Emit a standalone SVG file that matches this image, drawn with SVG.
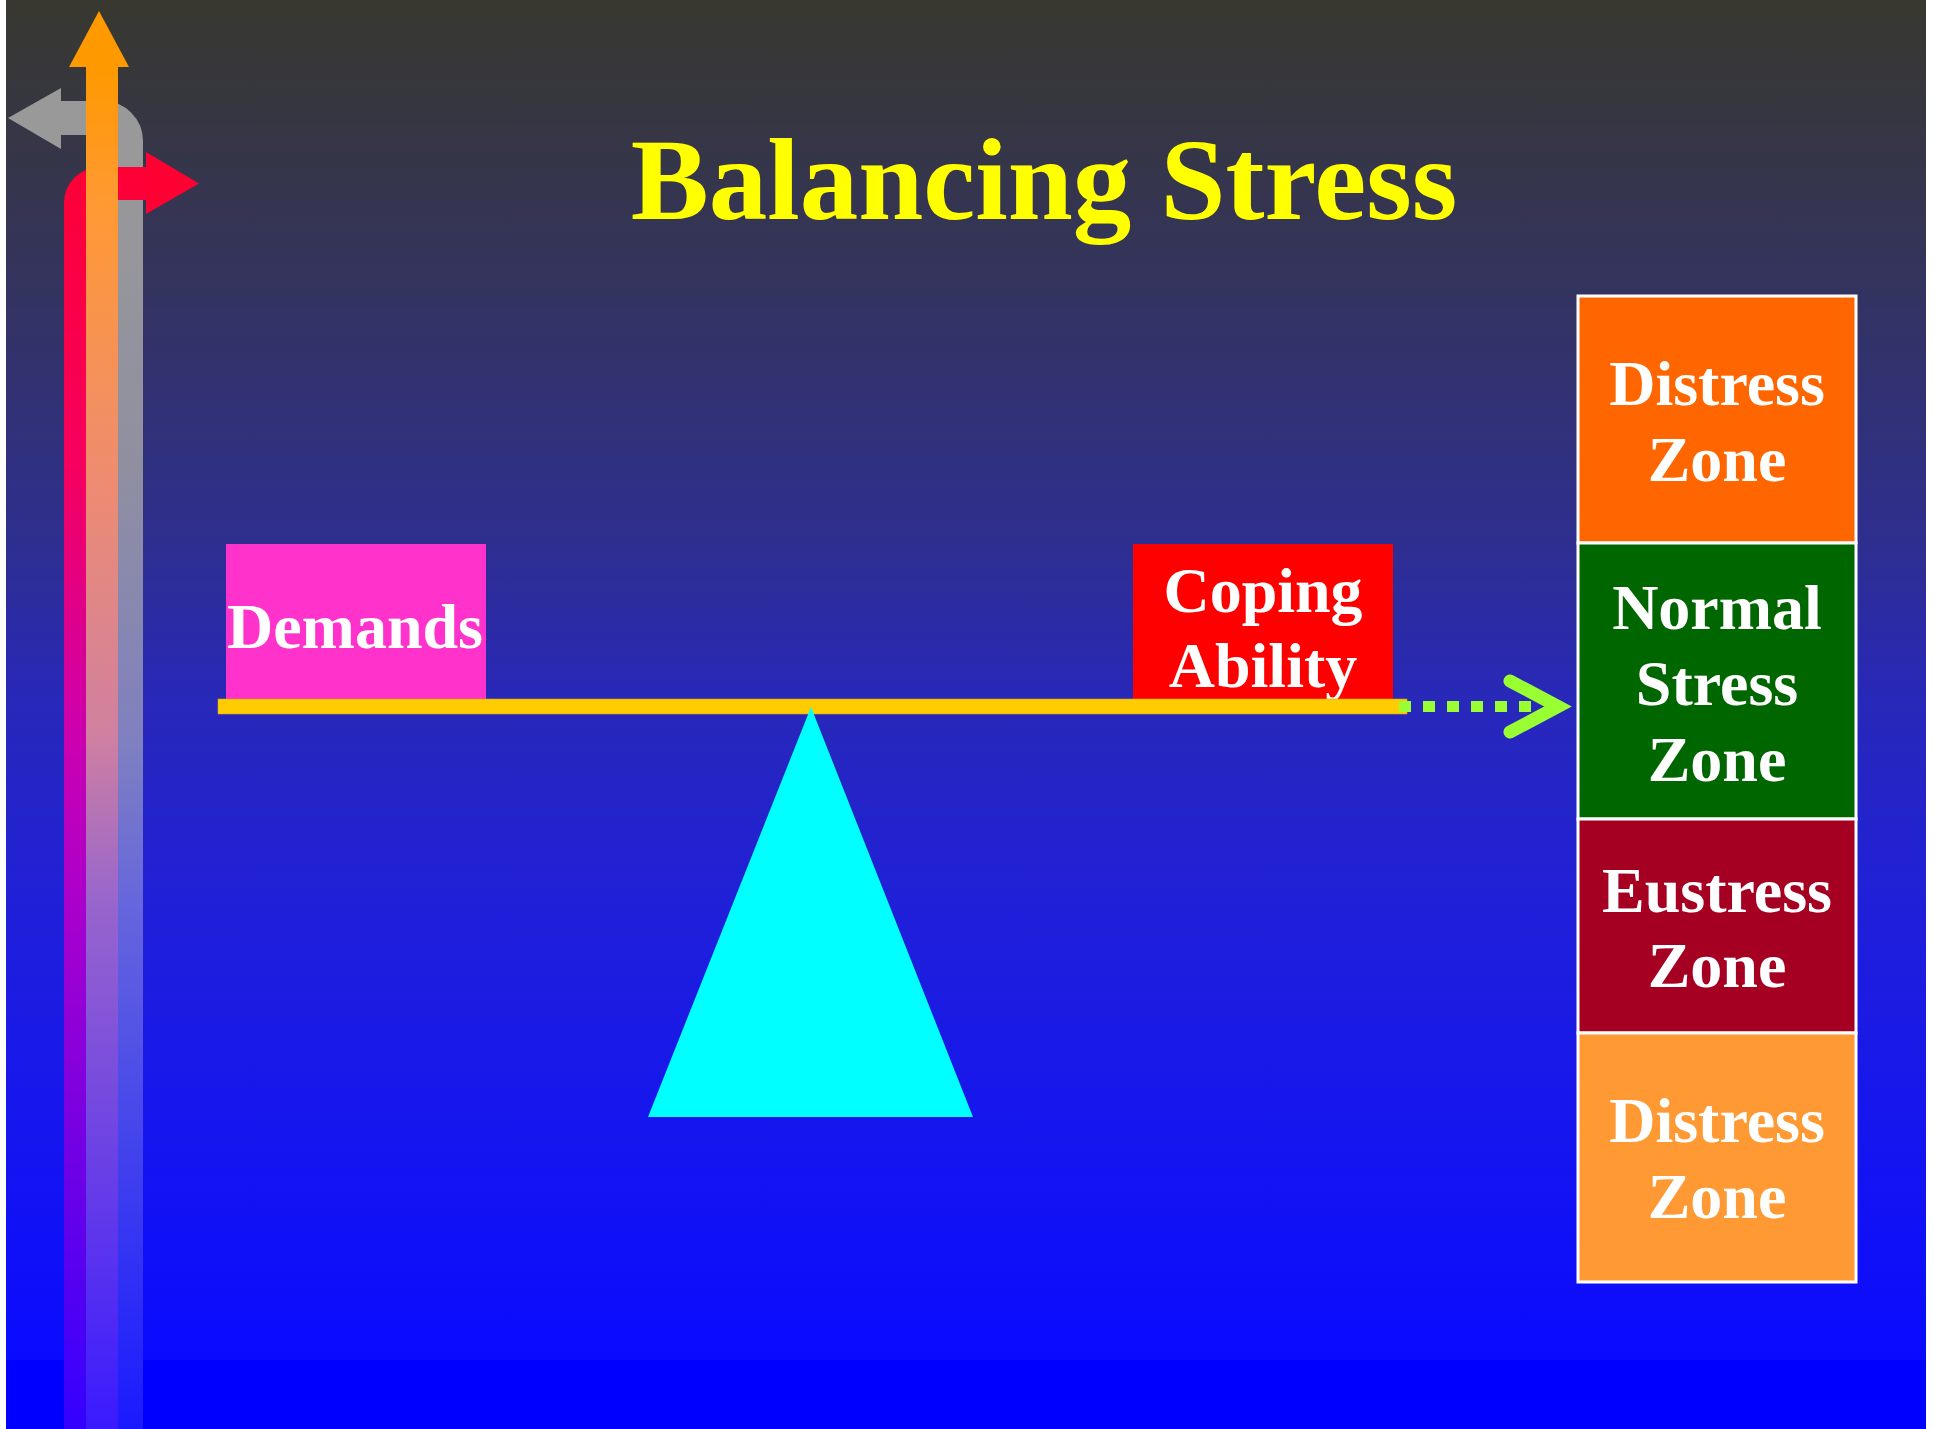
<svg xmlns="http://www.w3.org/2000/svg" width="1935" height="1429" viewBox="0 0 1935 1429">
<defs>
<style>
.t{font-family:"Liberation Serif","Times New Roman",serif;font-weight:bold;fill:#ffffff;text-anchor:middle}
.title{font-family:"Liberation Serif","Times New Roman",serif;font-weight:bold;fill:#ffff00;text-anchor:middle;font-size:117px}
.zone{stroke:#ffffff;stroke-width:3}
</style>
<linearGradient id="bg" gradientUnits="userSpaceOnUse" x1="0" y1="0" x2="0" y2="1360">
<stop offset="0" stop-color="#38382f"/>
<stop offset="0.19" stop-color="#34345a"/>
<stop offset="0.4" stop-color="#2e2e90"/>
<stop offset="0.51" stop-color="#2828b8"/>
<stop offset="0.66" stop-color="#2020d8"/>
<stop offset="0.82" stop-color="#1616ee"/>
<stop offset="1" stop-color="#0a0aff"/>
</linearGradient>
<linearGradient id="gRed" gradientUnits="userSpaceOnUse" x1="0" y1="150" x2="0" y2="1429">
<stop offset="0" stop-color="#ff0033"/>
<stop offset="0.25" stop-color="#f5005f"/>
<stop offset="0.46" stop-color="#cc00b0"/>
<stop offset="0.59" stop-color="#aa00cc"/>
<stop offset="1" stop-color="#3300ff"/>
</linearGradient>
<linearGradient id="gOr" gradientUnits="userSpaceOnUse" x1="0" y1="67" x2="0" y2="1429">
<stop offset="0" stop-color="#ff9900"/>
<stop offset="0.1" stop-color="#ff9933"/>
<stop offset="0.3" stop-color="#ee8c70"/>
<stop offset="0.49" stop-color="#d080a0"/>
<stop offset="0.61" stop-color="#9966cc"/>
<stop offset="1" stop-color="#3a1aff"/>
</linearGradient>
<linearGradient id="gGr" gradientUnits="userSpaceOnUse" x1="0" y1="150" x2="0" y2="1429">
<stop offset="0" stop-color="#999999"/>
<stop offset="0.25" stop-color="#8f8fa0"/>
<stop offset="0.46" stop-color="#8080c0"/>
<stop offset="0.59" stop-color="#6666dd"/>
<stop offset="1" stop-color="#1a1aff"/>
</linearGradient>
</defs>
<rect x="0" y="0" width="1935" height="1429" fill="#ffffff"/>
<rect x="6" y="0" width="1920" height="1360" fill="url(#bg)"/>
<rect x="6" y="1360" width="1920" height="69" fill="#0000ff"/>

<g id="arrows-icon">
<path d="M 61 118 H 103 A 23 23 0 0 1 126 141 V 1429" fill="none" stroke="url(#gGr)" stroke-width="34"/>
<polygon points="61,88 61,149 8,118" fill="#999999"/>
<path d="M 146 183.5 H 100 A 19.5 19.5 0 0 0 80.5 203 V 1429" fill="none" stroke="url(#gRed)" stroke-width="33"/>
<polygon points="146,152 146,214 199,183.5" fill="#ff0033"/>
<rect x="86" y="67" width="32" height="1362" fill="url(#gOr)"/>
<polygon points="69,67 129,67 99,11" fill="#ff9900"/>
</g>

<g id="title"><text class="title" x="1044" y="219">Balancing Stress</text></g>

<g id="demands">
<rect x="226" y="544" width="260" height="156" fill="#ff33cc"/>
<text class="t" x="355" y="648" font-size="64">Demands</text>
</g>

<g id="coping">
<rect x="1133" y="544" width="260" height="156" fill="#ff0000"/>
<text class="t" x="1263" y="612" font-size="64">Coping</text>
<text class="t" x="1263" y="687" font-size="64">Ability</text>
</g>

<g id="plank">
<rect x="218" y="699" width="1189" height="15" fill="#ffcc00" stroke="#d4a020" stroke-width="0.6"/>
</g>

<g id="fulcrum">
<polygon points="811,707 973,1117 648,1117" fill="#00ffff"/>
</g>

<g id="connectors">
<line x1="1399" y1="706.5" x2="1531" y2="706.5" stroke="#99ff33" stroke-width="11" stroke-dasharray="12 12"/>
<polyline points="1510,681 1558,706.5 1510,732" fill="none" stroke="#99ff33" stroke-width="13" stroke-linecap="round" stroke-linejoin="miter"/>
</g>

<g id="zone-distress-top">
<rect class="zone" x="1578" y="296" width="278" height="247" fill="#ff6600"/>
<text class="t" x="1717" y="405" font-size="64">Distress</text>
<text class="t" x="1717" y="481" font-size="64">Zone</text>
</g>
<g id="zone-normal">
<rect class="zone" x="1578" y="543" width="278" height="276" fill="#006600"/>
<text class="t" x="1717" y="629" font-size="64">Normal</text>
<text class="t" x="1717" y="705" font-size="64">Stress</text>
<text class="t" x="1717" y="781" font-size="64">Zone</text>
</g>
<g id="zone-eustress">
<rect class="zone" x="1578" y="819" width="278" height="214" fill="#a50021"/>
<text class="t" x="1717" y="912" font-size="64">Eustress</text>
<text class="t" x="1717" y="987" font-size="64">Zone</text>
</g>
<g id="zone-distress-bottom">
<rect class="zone" x="1578" y="1033" width="278" height="249" fill="#ff9933"/>
<text class="t" x="1717" y="1142" font-size="64">Distress</text>
<text class="t" x="1717" y="1218" font-size="64">Zone</text>
</g>
</svg>
